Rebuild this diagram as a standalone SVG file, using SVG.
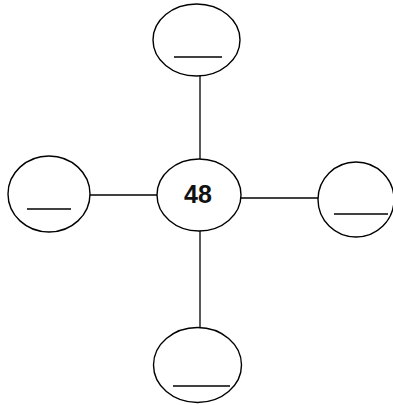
<svg xmlns="http://www.w3.org/2000/svg" width="393" height="405" viewBox="0 0 393 405">
<style>
.n{fill:#fff;stroke:#000;stroke-width:1.4}
.u{stroke:#000;stroke-width:1.6}
.c{stroke:#000;stroke-width:1.3}
.t{font-family:"Liberation Sans",Arial,sans-serif;font-weight:bold;font-size:25px;fill:#111}
</style>
<rect width="393" height="405" fill="#fff"/>
<g id="connectors">
<line class="c" x1="200" y1="76" x2="200" y2="159"/>
<line class="c" x1="90" y1="195" x2="157" y2="195"/>
<line class="c" x1="241" y1="198" x2="318" y2="198"/>
<line class="c" x1="200" y1="231" x2="200" y2="328"/>
</g>
<g id="top"><ellipse class="n" cx="196.5" cy="40" rx="43.5" ry="36"/><line class="u" x1="174" y1="57" x2="222" y2="57"/></g>
<g id="left"><ellipse class="n" cx="49" cy="194" rx="41" ry="38"/><line class="u" x1="27" y1="209" x2="71" y2="209"/></g>
<g id="center"><ellipse class="n" cx="199" cy="195" rx="42" ry="36"/><text class="t" x="198" y="203" text-anchor="middle">48</text></g>
<g id="right"><ellipse class="n" cx="356" cy="199.5" rx="38" ry="37.5"/><line class="u" x1="334" y1="214" x2="388" y2="214"/></g>
<g id="bottom"><ellipse class="n" cx="197.5" cy="365" rx="44" ry="37.5"/><line class="u" x1="173" y1="386" x2="230" y2="386"/></g>
</svg>
